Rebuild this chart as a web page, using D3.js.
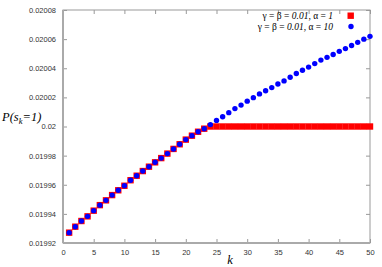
<!DOCTYPE html>
<html><head><meta charset="utf-8">
<script src="https://cdn.jsdelivr.net/npm/d3@7"></script>
<style>body{margin:0;background:#fff}svg{display:block}</style>
</head><body>
<svg id="c" width="382" height="267"></svg>
<script>
const ks = d3.range(1, 51);
const alpha1 = [0.0199271,0.0199312,0.0199351,0.0199383,0.0199422,0.0199460,0.0199493,0.0199529,0.0199562,0.0199593,
0.0199631,0.0199662,0.0199694,0.0199724,0.0199754,0.0199783,0.0199814,0.0199846,0.0199878,0.0199910,
0.0199937,0.0199964,0.0199985,0.0200000,0.0200000,0.0200000,0.0200000,0.0200000,0.0200000,0.0200000,
0.0200000,0.0200000,0.0200000,0.0200000,0.0200000,0.0200000,0.0200000,0.0200000,0.0200000,0.0200000,
0.0200000,0.0200000,0.0200000,0.0200000,0.0200000,0.0200000,0.0200000,0.0200000,0.0200000,0.0200000];
const alpha10 = [0.0199271,0.0199312,0.0199351,0.0199383,0.0199422,0.0199460,0.0199493,0.0199529,0.0199562,0.0199593,
0.0199631,0.0199662,0.0199694,0.0199724,0.0199754,0.0199783,0.0199814,0.0199846,0.0199878,0.0199910,
0.0199937,0.0199964,0.0199985,0.0200013,0.0200042,0.0200067,0.0200095,0.0200123,0.0200147,0.0200174,
0.0200198,0.0200224,0.0200245,0.0200267,0.0200292,0.0200313,0.0200338,0.0200364,0.0200386,0.0200408,
0.0200432,0.0200456,0.0200475,0.0200494,0.0200516,0.0200535,0.0200556,0.0200578,0.0200600,0.0200619];
const xTicks = [0,5,10,15,20,25,30,35,40,45,50];
const yTicks = [0.01992,0.01994,0.01996,0.01998,0.02,0.02002,0.02004,0.02006,0.02008];
const yTickLabels = ["0.01992","0.01994","0.01996","0.01998","0.02","0.02002","0.02004","0.02006","0.02008"];
const legendLabels = [["γ = β = ","0.01",", α = ","1"],["γ = β = ","0.01",", α = ","10"]];

const svg = d3.select("#c");
const L=63, R=370, T=10, B=243;
const x = d3.scaleLinear().domain([0,50]).range([L,R]);
const y = d3.scaleLinear().domain([0.01992,0.02008]).range([B,T]);
const axCol="#999", txtCol="#333";

const tickLen=4;
// x axis bottom
const xa = svg.append("g").attr("transform",`translate(0,${B})`)
  .call(d3.axisBottom(x).tickValues(xTicks).tickFormat(d=>d).tickSizeInner(-tickLen).tickSizeOuter(0).tickPadding(7));
const xt = svg.append("g").attr("transform",`translate(0,${T})`)
  .call(d3.axisTop(x).tickValues(xTicks).tickFormat("").tickSizeInner(-tickLen).tickSizeOuter(0));
const ya = svg.append("g").attr("transform",`translate(${L},0)`)
  .call(d3.axisLeft(y).tickValues(yTicks).tickFormat((d,i)=>yTickLabels[i]).tickSizeInner(-tickLen).tickSizeOuter(0).tickPadding(7));
const yr = svg.append("g").attr("transform",`translate(${R},0)`)
  .call(d3.axisRight(y).tickValues(yTicks).tickFormat("").tickSizeInner(-tickLen).tickSizeOuter(0));
[xa,xt,ya,yr].forEach(g=>{
  g.selectAll("path").remove();
  g.selectAll("line").attr("stroke",axCol).attr("stroke-width",1);
  g.selectAll("text").attr("fill",txtCol).style("font-family","'Liberation Sans',Arial,sans-serif").style("font-size","7.5px");
});
// frame
svg.append("rect").attr("x",L).attr("y",T).attr("width",R-L).attr("height",B-T)
  .attr("fill","none").attr("stroke",axCol).attr("stroke-width",1);
svg.append("line").attr("x1",L).attr("x2",L).attr("y1",T).attr("y2",B).attr("stroke","#aaa").attr("stroke-width",2);
svg.append("line").attr("x1",L).attr("x2",R).attr("y1",B).attr("y2",B).attr("stroke","#aaa").attr("stroke-width",2);

// data
const s1 = svg.append("g");
s1.selectAll("rect").data(ks).join("rect")
  .attr("x",(d,i)=>x(d)-3.2).attr("y",(d,i)=>y(alpha1[i])-3.2).attr("width",6.4).attr("height",6.4)
  .attr("fill","#f00");
const s2 = svg.append("g");
s2.selectAll("circle").data(ks).join("circle")
  .attr("cx",d=>x(d)).attr("cy",(d,i)=>y(alpha10[i])).attr("r",2.7).attr("fill","#00f");

// legend
const serif="'Liberation Serif','Times New Roman',serif";
legendLabels.forEach((parts,i)=>{
  const ty = 19 + i*11;
  const t = svg.append("text").attr("x",333).attr("y",ty).attr("text-anchor","end")
    .style("font-family",serif).style("font-size","9.5px").attr("fill","#000");
  t.append("tspan").text(parts[0]);
  t.append("tspan").style("font-style","italic").text(parts[1]);
  t.append("tspan").text(parts[2]);
  t.append("tspan").style("font-style","italic").text(parts[3]);
});
svg.append("rect").attr("x",347.5).attr("y",12.5).attr("width",6.4).attr("height",6.4).attr("fill","#f00");
svg.append("circle").attr("cx",351).attr("cy",26.5).attr("r",2.7).attr("fill","#00f");

// axis titles
const yl = svg.append("text").attr("x",2).attr("y",121).style("font-family",serif)
  .style("font-size","12.5px").style("font-style","italic").attr("fill","#000");
yl.append("tspan").text("P(s");
yl.append("tspan").attr("dy",3).style("font-size","8.5px").text("k");
yl.append("tspan").attr("dy",-3).text("=1)");
svg.append("text").attr("x",230).attr("y",264).attr("text-anchor","middle").style("font-family",serif)
  .style("font-size","12.5px").style("font-style","italic").attr("fill","#000").text("k");
</script>
</body></html>
